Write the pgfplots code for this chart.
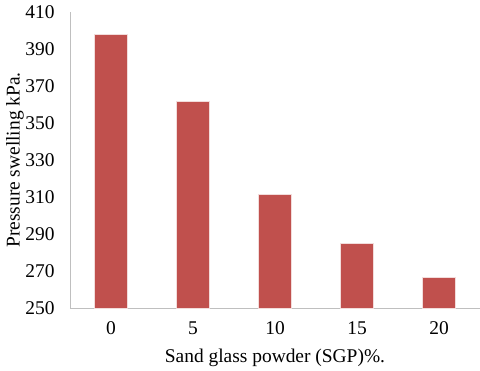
\documentclass[border=0pt]{standalone}
\usepackage{pgfplots}
\pgfplotsset{compat=1.18}
\usepackage{fontspec}
\setmainfont{Liberation Serif}
\definecolor{barred}{HTML}{C0504D}
\definecolor{axgray}{HTML}{BFBFBF}
\begin{document}
\begin{tikzpicture}
\path[use as bounding box] (-70bp,-63bp) rectangle (410bp,308bp);
\begin{axis}[
  at={(0,0)}, anchor=south west,
  scale only axis,
  width=410bp, height=296bp,
  xmin=-0.5, xmax=4.5,
  ymin=250, ymax=410,
  ytick={250,270,...,410},
  xtick={0,1,2,3,4},
  xticklabels={0,5,10,15,20},
  axis x line*=bottom,
  axis y line*=left,
  axis line style={axgray, line width=1pt},
  major tick length=0pt,
  tick style={draw=none},
  font=\fontsize{19.5}{22}\selectfont,
  /pgf/number format/assume math mode=true,
  /pgf/number format/1000 sep={},
  yticklabel style={xshift=-12bp},
  xticklabel style={yshift=-10bp},
  ylabel={Pressure swelling kPa.},
  xlabel={Sand glass powder (SGP)\%.},
  ylabel style={at={(axis description cs:-0.134,0.5)}, anchor=center},
  xlabel style={at={(axis description cs:0.5,-0.169)}, anchor=center},
]
\addplot[ybar, bar width=33bp, fill=barred, draw=white!80!barred, line width=0.6pt]
  coordinates {(0,398) (1,361.5) (2,311.3) (3,285) (4,266.5)};
\end{axis}
\end{tikzpicture}
\end{document}
